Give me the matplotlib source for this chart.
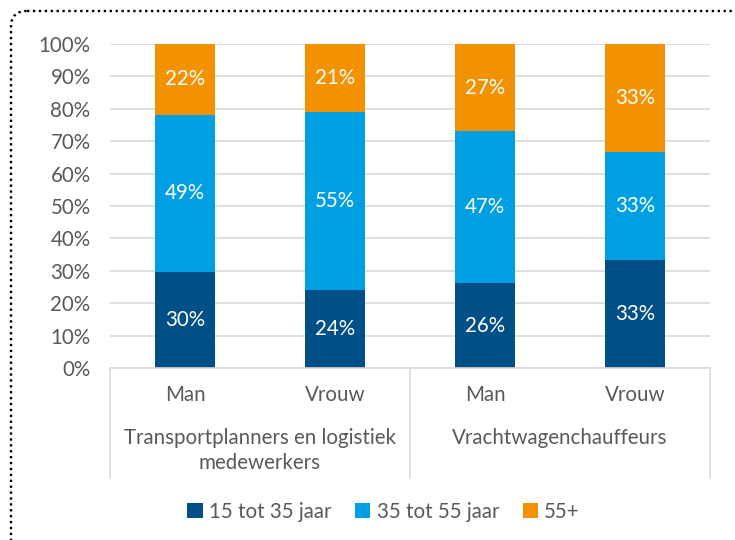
import matplotlib
matplotlib.use("Agg")
import matplotlib.pyplot as plt
from matplotlib.patches import FancyBboxPatch, Patch
import matplotlib.transforms as mtransforms

plt.rcParams['font.family'] = ['Lato', 'DejaVu Sans']

sub_labels = ["Man", "Vrouw", "Man", "Vrouw"]
group_labels = [["Transportplanners en logistiek", "medewerkers"], ["Vrachtwagenchauffeurs"]]
series_names = ["15 tot 35 jaar", "35 tot 55 jaar", "55+"]
young = [0.296, 0.241, 0.262, 0.334]
middle = [0.486, 0.549, 0.469, 0.333]
senior = [0.218, 0.210, 0.269, 0.333]
colors = ["#004F86", "#009FE3", "#F39200"]
yticks = [0, 0.1, 0.2, 0.3, 0.4, 0.5, 0.6, 0.7, 0.8, 0.9, 1.0]

FS = 14.8
W, H = 735, 540
fig = plt.figure(figsize=(W / 100, H / 100), dpi=100)

# background axes for dotted border
bg = fig.add_axes([0, 0, 1, 1], zorder=-1)
bg.set_xlim(0, W)
bg.set_ylim(H, 0)
bg.axis("off")
border = FancyBboxPatch((11, 11), 800, 700, boxstyle="round,pad=0,rounding_size=16",
                        fill=False, edgecolor="black", linewidth=1.7,
                        linestyle=(0, (1, 1.5)), capstyle="butt")
bg.add_patch(border)

left, right, top, bottom = 110, 710, 44, 368
ax = fig.add_axes([left / W, 1 - bottom / H, (right - left) / W, (bottom - top) / H])
x = list(range(len(sub_labels)))
bw = 0.4
bottoms = [0] * len(x)
for vals, col in zip([young, middle, senior], colors):
    ax.bar(x, vals, bw, bottom=bottoms, color=col, zorder=3)
    for xi, v, b in zip(x, vals, bottoms):
        ax.text(xi, b + v / 2, f"{round(v * 100):d}%", ha="center", va="center",
                color="white", fontsize=FS, zorder=4)
    bottoms = [b + v for b, v in zip(bottoms, vals)]

ax.set_xlim(-0.5, len(x) - 0.5)
ax.set_ylim(0, 1)
ax.set_yticks(yticks)
ax.set_yticklabels([f"{round(t * 100)}%" for t in yticks])
ax.tick_params(axis="y", length=0, pad=14, labelsize=FS, labelcolor="#595959")
ax.set_xticks([])
ax.grid(axis="y", color="#D9D9D9", linewidth=1.2, zorder=0)
for s in ["top", "right", "left"]:
    ax.spines[s].set_visible(False)
ax.spines["bottom"].set_color("#D9D9D9")
ax.spines["bottom"].set_linewidth(1.2)
ax.spines["bottom"].set_zorder(5)

trans = mtransforms.blended_transform_factory(ax.transData, ax.transAxes)
ph = bottom - top
for xi, lab in zip(x, sub_labels):
    ax.text(xi, -27 / ph, lab, transform=trans, ha="center", va="center",
            fontsize=FS, color="#595959")
for gi, lines in enumerate(group_labels):
    for li, lab in enumerate(lines):
        ax.text(gi * 2 + 0.5, -(70 + 25 * li) / ph, lab, transform=trans, ha="center",
                va="center", fontsize=FS, color="#595959")
for xs in [-0.5, 1.5, 3.5]:
    ax.plot([xs, xs], [0, -110 / ph], transform=trans, color="#D9D9D9",
            linewidth=1.2, clip_on=False)

handles = [Patch(facecolor=c, edgecolor="none") for c in colors]
fig.legend(handles, series_names, loc="center", bbox_to_anchor=(0.522, 1 - 512 / H),
           ncol=3, frameon=False, fontsize=FS, labelcolor="#595959",
           handlelength=0.75, handleheight=0.75, handletextpad=0.3, columnspacing=1.15)

fig.savefig("out.png", dpi=100)
